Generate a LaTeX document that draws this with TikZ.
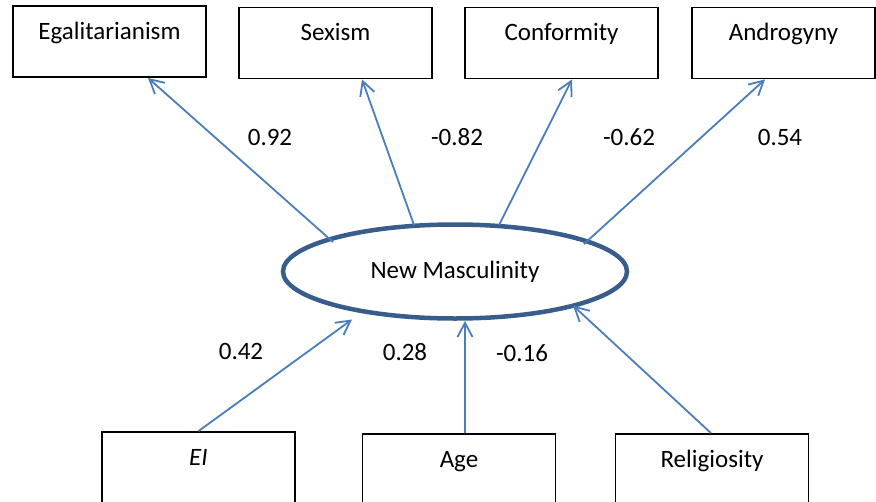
\documentclass[tikz,border=0pt]{standalone}
\usepackage{fontspec}
\setmainfont{Carlito}
\usetikzlibrary{shapes.geometric,arrows.meta}
\definecolor{linkblue}{HTML}{4A7EBB}
\definecolor{ringblue}{HTML}{385D8A}
\begin{document}
\begin{tikzpicture}[x=1pt,y=-1pt,font=\fontsize{25}{30}\selectfont]
\tikzset{
    box/.style={draw=black, line width=1.8pt, rectangle, minimum width=193pt,
        inner xsep=0pt, inner ysep=0pt, text height=33pt, text depth=38pt},
    latent/.style={draw=ringblue, line width=4.5pt, ellipse,
        minimum width=344pt, minimum height=94pt, inner sep=0pt},
    load/.style={draw=linkblue, line width=1.8pt,
        -{Straight Barb[length=14pt,width=15pt]}},
    weight/.style={inner sep=0pt}}
\useasboundingbox (0,0) rectangle (876,501);
\clip (0,0) rectangle (876,501);

% indicators
\node[box] (egal) at (109.5,41.5) {Egalitarianism};
\node[box] (sex) at (335.5,43) {Sexism};
\node[box] (conf) at (561.5,43) {Conformity};
\node[box, minimum width=183pt] (andro) at (783.5,43) {Androgyny};

% predictors
\node[box] (ei) at (198.5,467.5) {\itshape EI};
\node[box] (age) at (459,469.5) {Age};
\node[box] (relig) at (712,469.5) {Religiosity};

\node[latent] (nm) at (455,271.5) {New Masculinity};

\draw[load] ([shift={(-122,-29.5)}]nm.center) -- ([shift={(38.5,0)}]egal.south);
\draw[load] ([shift={(-41,-46.5)}]nm.center) -- ([shift={(26.5,0)}]sex.south);
\draw[load] ([shift={(44,-46.5)}]nm.center) -- ([shift={(10.5,0)}]conf.south);
\draw[load] ([shift={(129,-27.5)}]nm.center) -- ([shift={(-18.5,0)}]andro.south);

\draw[load] (ei.north) -- ([shift={(-103,48)}]nm.center);
\draw[load] ([shift={(6,0)}]age.north) -- ([shift={(10,49.5)}]nm.center);
\draw[load] ([shift={(-1,0)}]relig.north) -- ([shift={(118,34)}]nm.center);

\node[weight] (w1) at (270,137) {0.92};
\node[weight] (w2) at (457,137) {-0.82};
\node[weight] (w3) at (629,137) {-0.62};
\node[weight] (w4) at (780,137) {0.54};
\node[weight] (w5) at (241,351) {0.42};
\node[weight] (w6) at (405,352) {0.28};
\node[weight] (w7) at (522,353) {-0.16};

\end{tikzpicture}
\end{document}
